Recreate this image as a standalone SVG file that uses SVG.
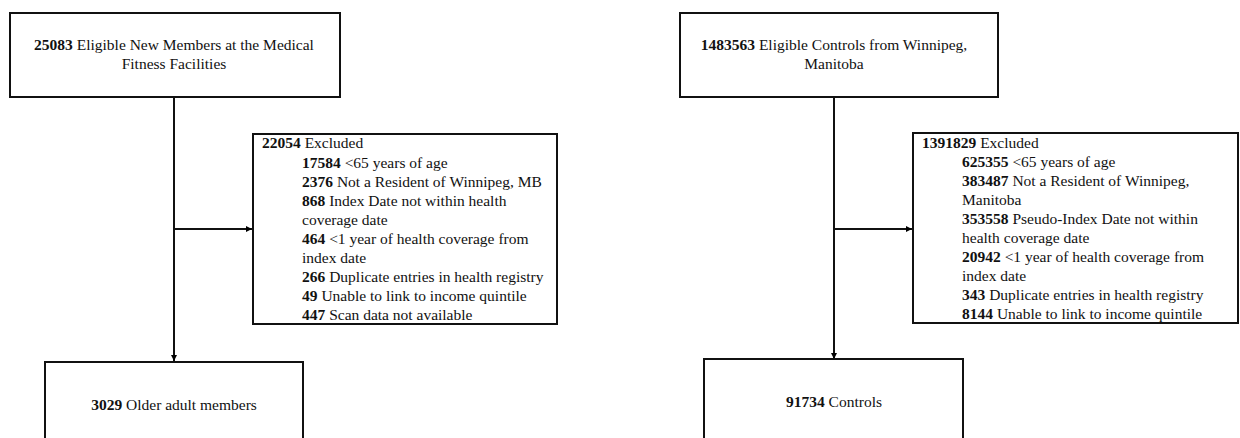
<svg xmlns="http://www.w3.org/2000/svg" width="1240" height="438" viewBox="0 0 1240 438">
<defs>
<marker id="arr" viewBox="0 0 10 10" refX="10" refY="5" markerWidth="6" markerHeight="6" markerUnits="userSpaceOnUse" orient="auto">
<path d="M0,0 L10,5 L0,10 z" fill="#000"/>
</marker>
<style>
.box{fill:#fff;stroke:#111;stroke-width:2}
.t{font-family:"Liberation Serif","Times New Roman",serif;font-size:15.5px;fill:#111}
.c{text-anchor:middle}
.b{font-weight:bold}
.ln{stroke:#111;stroke-width:2;fill:none}
</style>
</defs>
<rect width="1240" height="438" fill="#fff"/>
<g id="connectors">
<line class="ln" x1="174" y1="97" x2="174" y2="361" marker-end="url(#arr)"/>
<line class="ln" x1="174" y1="229" x2="252" y2="229" marker-end="url(#arr)"/>
<line class="ln" x1="834" y1="97" x2="834" y2="359" marker-end="url(#arr)"/>
<line class="ln" x1="834" y1="229" x2="912" y2="229" marker-end="url(#arr)"/>
</g>
<g id="eligible-members">
<rect class="box" x="10" y="13" width="330" height="84"/>
<text class="t c" x="174" y="50"><tspan class="b">25083</tspan> Eligible New Members at the Medical</text>
<text class="t c" x="174" y="69">Fitness Facilities</text>
</g>
<g id="excluded-members">
<rect class="box" x="253" y="134" width="304" height="190"/>
<text class="t" x="262" y="148"><tspan class="b">22054</tspan> Excluded</text>
<text class="t" x="302" y="167.5"><tspan class="b">17584</tspan> &lt;65 years of age</text>
<text class="t" x="302" y="186.5"><tspan class="b">2376</tspan> Not a Resident of Winnipeg, MB</text>
<text class="t" x="302" y="205.5"><tspan class="b">868</tspan> Index Date not within health</text>
<text class="t" x="302" y="224.5">coverage date</text>
<text class="t" x="302" y="243.5"><tspan class="b">464</tspan> &lt;1 year of health coverage from</text>
<text class="t" x="302" y="262.5">index date</text>
<text class="t" x="302" y="281.5"><tspan class="b">266</tspan> Duplicate entries in health registry</text>
<text class="t" x="302" y="300.5"><tspan class="b">49</tspan> Unable to link to income quintile</text>
<text class="t" x="302" y="319.5"><tspan class="b">447</tspan> Scan data not available</text>
</g>
<g id="older-adult-members">
<rect class="box" x="45" y="362" width="258" height="90"/>
<text class="t c" x="174" y="410"><tspan class="b">3029</tspan> Older adult members</text>
</g>
<g id="eligible-controls">
<rect class="box" x="680" y="13" width="318" height="84"/>
<text class="t c" x="834" y="50"><tspan class="b">1483563</tspan> Eligible Controls from Winnipeg,</text>
<text class="t c" x="834" y="69">Manitoba</text>
</g>
<g id="excluded-controls">
<rect class="box" x="913" y="133" width="325" height="190"/>
<text class="t" x="922" y="147.5"><tspan class="b">1391829</tspan> Excluded</text>
<text class="t" x="962" y="166.5"><tspan class="b">625355</tspan> &lt;65 years of age</text>
<text class="t" x="962" y="185.5"><tspan class="b">383487</tspan> Not a Resident of Winnipeg,</text>
<text class="t" x="962" y="204.5">Manitoba</text>
<text class="t" x="962" y="223.5"><tspan class="b">353558</tspan> Pseudo-Index Date not within</text>
<text class="t" x="962" y="242.5">health coverage date</text>
<text class="t" x="962" y="261.5"><tspan class="b">20942</tspan> &lt;1 year of health coverage from</text>
<text class="t" x="962" y="280.5">index date</text>
<text class="t" x="962" y="299.5"><tspan class="b">343</tspan> Duplicate entries in health registry</text>
<text class="t" x="962" y="318.5"><tspan class="b">8144</tspan> Unable to link to income quintile</text>
</g>
<g id="controls">
<rect class="box" x="704" y="359" width="259" height="90"/>
<text class="t c" x="834" y="407"><tspan class="b">91734</tspan> Controls</text>
</g>
</svg>
